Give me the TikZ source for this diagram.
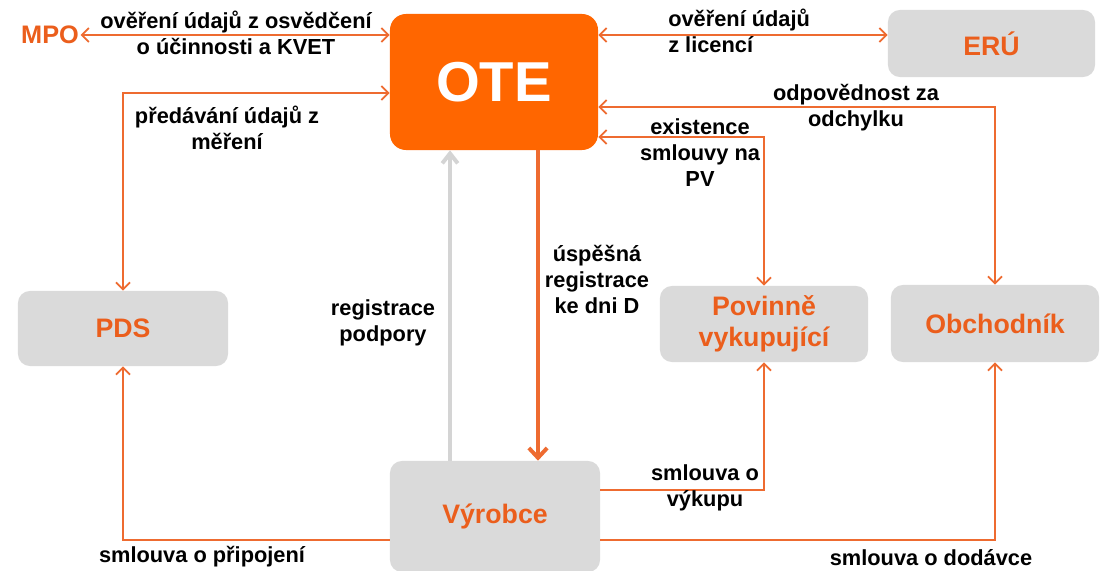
\documentclass[tikz,border=0pt]{standalone}
\usepackage{fontspec}
\setmainfont{Liberation Sans}
\usetikzlibrary{arrows.meta}
\definecolor{otefill}{RGB}{255, 102, 0}
\definecolor{linkorange}{RGB}{238, 107, 48}
\definecolor{textorange}{RGB}{235, 94, 28}
\definecolor{boxgray}{RGB}{218, 218, 218}
\definecolor{arrowgray}{RGB}{212, 212, 212}
\definecolor{white}{RGB}{255, 255, 255}

\begin{document}
\begin{tikzpicture}[
        x=0.025cm, y=-0.025cm,
        background/.style={fill=white},
        party/.style={
            rectangle, rounded corners=0.3cm, fill=boxgray,
            text=textorange, font=\fontsize{19}{22}\selectfont\bfseries,
            align=center
        },
        ote/.style={
            rectangle, rounded corners=0.4cm, fill=otefill,
            text=white, font=\fontsize{40}{44}\selectfont\bfseries,
            minimum width=5.2cm, minimum height=3.4cm
        },
        label/.style={
            font=\fontsize{15.5}{18.5}\selectfont\bfseries,
            text=black, inner sep=0pt
        },
        link/.style={
            draw=linkorange, line width=1.3pt,
            >={Straight Barb[length=5pt,width=10pt]}
        },
        mainlink/.style={
            draw=linkorange, line width=2.8pt,
            ->, >={Straight Barb[length=7pt,width=13pt]}
        },
        graylink/.style={
            draw=arrowgray, line width=2.8pt,
            ->, >={Straight Barb[length=7pt,width=11pt]}
        }
    ]

    \useasboundingbox[background] (0,0) rectangle (1104,571);

    \node[ote] (ote) at (494,82) {OTE};
    \node[party, minimum width=5.175cm, minimum height=1.675cm] (eru) at (991.5,43.5) {ERÚ};
    \node[party, minimum width=5.25cm, minimum height=1.875cm] (pds) at (123,328.5) {PDS};
    \node[party, minimum width=5.2cm, minimum height=1.9cm] (pov) at (764,324) {Povinně\\vykupující};
    \node[party, minimum width=5.2cm, minimum height=1.925cm] (obch) at (995,323.5) {Obchodník};
    \node[party, minimum width=5.25cm, minimum height=2.775cm] (vyr) at (495,516.5) {Výrobce};
    \node[text=textorange, font=\fontsize{18}{20}\selectfont\bfseries, inner sep=1pt] (mpo) at (50,35) {MPO};

    \draw[link,<->] (mpo.east) -- (ote.west |- mpo.east);
    \draw[link,<->] (ote.east |- 0,35) -- (eru.west |- 0,35);
    \draw[link,<->] (pds.north) |- (ote.west |- 0,93);
    \draw[link,<->] (obch.north) |- (ote.east |- 0,107);
    \draw[link,<->] (pov.north) |- (ote.east |- 0,137);
    \draw[graylink] (vyr.north -| 450,0) -- (ote.south -| 450,0);
    \draw[mainlink] (ote.south -| 538,0) -- (vyr.north -| 538,0);
    \draw[link,->] (vyr.east |- 0,490) -| (pov.south);
    \draw[link,->] (vyr.east |- 0,540) -| (obch.south);
    \draw[link,->] (vyr.west |- 0,540) -| (pds.south);

    \node[label, align=center] (lmpo) at (236,33) {ověření údajů z osvědčení\\o účinnosti a KVET};
    \node[label, align=left, anchor=west] (leru) at (668,31) {ověření údajů\\z licencí};
    \node[label, align=center] (lpds) at (227,128) {předávání údajů z\\měření};
    \node[label, align=center] (lpodp) at (383,323) {registrace\\podpory};
    \node[label, align=center] (lreg) at (597,279) {úspěšná\\registrace\\ke dni D};
    \node[label, align=center] (lodch) at (856,108) {odpovědnost za\\odchylku};
    \node[label, align=center] (lpv) at (700,153) {existence\\smlouvy na\\PV};
    \node[label, align=center] (lvyk) at (705,488) {smlouva o\\výkupu};
    \node[label] (ldod) at (931,558) {smlouva o dodávce};
    \node[label] (lpri) at (202,557) {smlouva o připojení};
\end{tikzpicture}
\end{document}
